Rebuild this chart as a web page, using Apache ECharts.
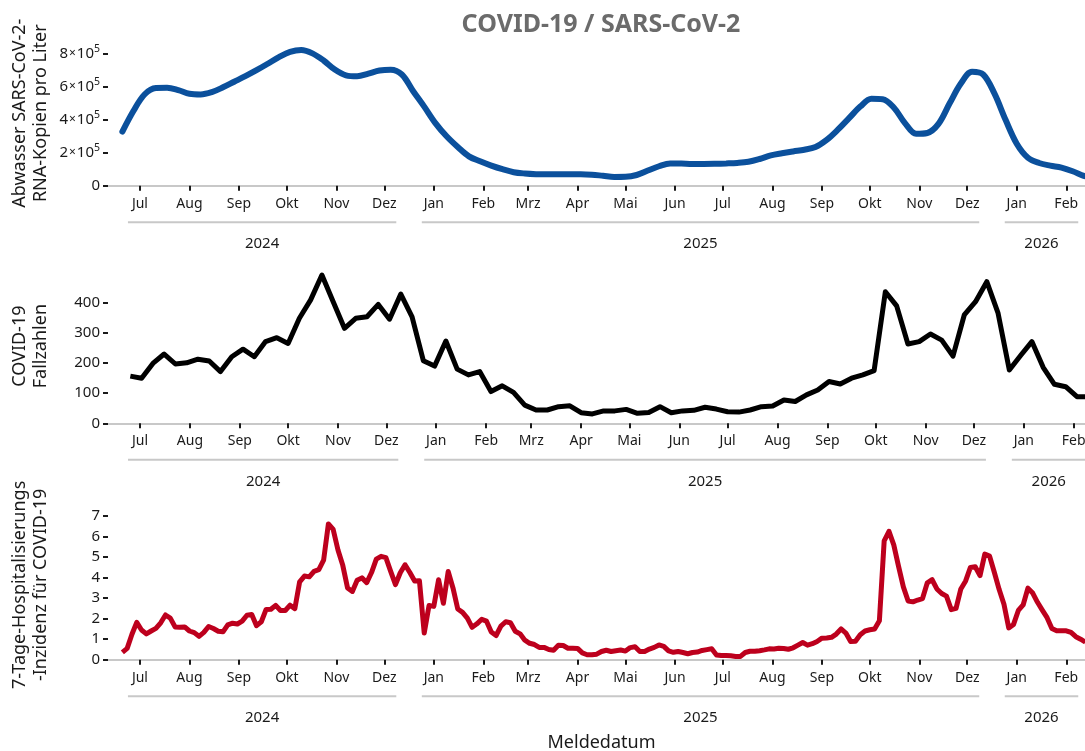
<!DOCTYPE html>
<html>
<head>
<meta charset="utf-8">
<script src="https://cdn.jsdelivr.net/npm/echarts@6/dist/echarts.min.js"></script>
<style>
html,body{margin:0;padding:0;background:#fff;}
#c{width:1085px;height:751px;}
</style>
</head>
<body>
<div id="c"></div>
<script>
// ---------------- data ----------------
const monthNames = ['Jan','Feb','Mrz','Apr','Mai','Jun','Jul','Aug','Sep','Okt','Nov','Dez'];
const DAY = 86400000;

// Abwasser: SARS-CoV-2 RNA copies per liter, weekly from 2024-06-20
const wasteStart = Date.UTC(2024, 5, 20);
const wasteStepDays = 7;
const wasteValues = [3.28e5,4.55e5,5.55e5,5.93e5,5.94e5,5.80e5,5.58e5,5.54e5,5.68e5,5.97e5,
  6.31e5,6.65e5,7.01e5,7.40e5,7.80e5,8.12e5,8.23e5,8.03e5,7.60e5,7.05e5,
  6.70e5,6.64e5,6.80e5,6.99e5,7.04e5,6.75e5,5.75e5,4.80e5,3.80e5,3.00e5,
  2.35e5,1.78e5,1.48e5,1.22e5,1.00e5,0.82e5,0.74e5,0.70e5,0.69e5,0.69e5,
  0.70e5,0.70e5,0.67e5,0.60e5,0.53e5,0.54e5,0.65e5,0.92e5,1.18e5,1.35e5,
  1.34e5,1.32e5,1.32e5,1.33e5,1.35e5,1.38e5,1.45e5,1.62e5,1.84e5,1.97e5,
  2.08e5,2.18e5,2.35e5,2.78e5,3.40e5,4.10e5,4.80e5,5.28e5,5.25e5,4.75e5,
  3.80e5,3.15e5,3.20e5,3.75e5,5.00e5,6.20e5,6.92e5,6.75e5,5.60e5,4.00e5,
  2.55e5,1.70e5,1.38e5,1.22e5,1.10e5,0.88e5,0.60e5,0.40e5];

// COVID-19 Fallzahlen, weekly from 2024-06-25
const casesStart = Date.UTC(2024, 5, 25);
const casesStepDays = 7;
const casesValues = [156,149,198,229,196,200,212,206,171,220,
  245,220,270,283,264,347,408,490,402,314,
  347,352,393,344,427,352,207,189,272,179,
  160,171,105,124,102,60,44,44,55,58,
  35,31,41,41,46,33,36,55,35,41,
  43,53,47,38,37,44,55,57,77,72,
  94,110,138,130,149,160,174,435,388,262,
  270,295,275,222,358,402,468,364,176,224,
  270,185,129,121,88,88];

// 7-Tage-Hospitalisierungsinzidenz, every 3 days from 2024-06-20
const hospStart = Date.UTC(2024, 5, 20);
const hospStepDays = 3;
const hospValues = [0.36,0.55,1.24,1.82,1.45,1.26,1.40,1.53,1.80,2.18,
  2.03,1.60,1.58,1.60,1.40,1.32,1.14,1.33,1.62,1.52,
  1.39,1.36,1.70,1.78,1.74,1.88,2.17,2.20,1.66,1.85,
  2.45,2.46,2.65,2.40,2.40,2.66,2.49,3.80,4.08,4.04,
  4.31,4.39,4.85,6.62,6.35,5.35,4.60,3.50,3.33,3.87,
  3.99,3.76,4.25,4.90,5.04,4.98,4.31,3.66,4.24,4.63,
  4.25,3.84,3.85,1.30,2.64,2.60,3.90,2.75,4.30,3.50,
  2.47,2.31,2.03,1.58,1.75,1.97,1.88,1.35,1.18,1.64,
  1.85,1.80,1.39,1.26,0.95,0.80,0.74,0.60,0.60,0.50,
  0.46,0.70,0.69,0.56,0.56,0.55,0.33,0.24,0.24,0.27,
  0.40,0.46,0.40,0.44,0.47,0.42,0.59,0.63,0.40,0.40,
  0.52,0.60,0.72,0.65,0.43,0.36,0.40,0.35,0.29,0.35,
  0.37,0.45,0.49,0.53,0.23,0.20,0.21,0.19,0.16,0.16,
  0.35,0.41,0.41,0.44,0.48,0.53,0.52,0.56,0.55,0.51,
  0.58,0.71,0.84,0.71,0.78,0.89,1.05,1.06,1.09,1.25,
  1.50,1.30,0.89,0.90,1.22,1.40,1.46,1.50,1.90,5.80,
  6.26,5.60,4.55,3.55,2.86,2.82,2.91,2.98,3.75,3.90,
  3.45,3.23,3.10,2.44,2.50,3.45,3.84,4.50,4.53,4.10,
  5.15,5.05,4.25,3.42,2.70,1.55,1.72,2.40,2.67,3.49,
  3.25,2.80,2.42,2.05,1.52,1.41,1.41,1.41,1.33,1.12,
  1.00,0.86];

const wasteTicks = [0, 2e5, 4e5, 6e5, 8e5];
const casesTicks = [0, 100, 200, 300, 400];
const hospTicks = [0, 1, 2, 3, 4, 5, 6, 7];

const titleText = 'COVID-19 / SARS-CoV-2';
const yNames = ['Abwasser SARS-CoV-2-\nRNA-Kopien pro Liter', 'COVID-19\nFallzahlen', '7-Tage-Hospitalisierungs\n-Inzidenz für COVID-19'];
const xName = 'Meldedatum';

// ---------------- helpers ----------------
const FONT = '"Noto Sans", "DejaVu Sans", sans-serif';
const TXT = '#1a1a1a';
const GREY = '#c8c8c8';

function series(start, step, vals) {
  return vals.map((v, k) => [start + k * step * DAY, v]);
}
function monthTicks(min, max) {
  const out = [];
  const d0 = new Date(min);
  let y = d0.getUTCFullYear(), m = d0.getUTCMonth();
  while (true) {
    const t = Date.UTC(y, m, 1);
    if (t > max) break;
    if (t >= min) out.push(t);
    m++; if (m > 11) { m = 0; y++; }
  }
  return out;
}

const ranges = [
  [Date.UTC(2024, 5, 11), Date.UTC(2026, 1, 19)],
  [Date.UTC(2024, 5, 11, 3), Date.UTC(2026, 1, 14, 5)],
  [Date.UTC(2024, 5, 11), Date.UTC(2026, 1, 19)]
];
const grids = [
  {left: 108, right: -10, top: 40.7, height: 145},
  {left: 108, right: -10, top: 269, height: 154.3},
  {left: 108, right: -10, top: 510, height: 149.7}
];
const yMax = [8.8e5, 510, 7.3];
const yTicks = [wasteTicks, casesTicks, hospTicks];

const chart = echarts.init(document.getElementById('c'), null, {renderer: 'canvas'});

const xAxes = ranges.map((r, i) => {
  const ticks = monthTicks(r[0], r[1]);
  const ax = {
    type: 'value', gridIndex: i, min: r[0], max: r[1],
    axisLine: {show: true, onZero: false, lineStyle: {color: GREY, width: 2}},
    axisTick: {show: true, customValues: ticks, length: 5, lineStyle: {color: TXT, width: 2}},
    axisLabel: {show: true, customValues: ticks, margin: 11, fontSize: 14, color: TXT, fontFamily: FONT,
      formatter: v => monthNames[new Date(v).getUTCMonth()]},
    splitLine: {show: false},
    nameMoveOverlap: false
  };
  if (i === 2) {
    ax.name = xName; ax.nameLocation = 'middle'; ax.nameGap = 74;
    ax.nameTextStyle = {fontSize: 18, color: TXT, fontFamily: FONT};
  }
  return ax;
});

const yAxes = yMax.map((mx, i) => ({
  type: 'value', gridIndex: i, min: 0, max: mx,
  axisLine: {show: false},
  axisTick: {show: true, customValues: yTicks[i], length: 5, lineStyle: {color: TXT, width: 2}},
  axisLabel: {show: true, customValues: yTicks[i], margin: 8, fontSize: 15, color: TXT, fontFamily: FONT,
    formatter: i === 0 ? (v => v === 0 ? '0' : '{n|' + (v / 1e5) + '}{x|×}{n|10}{s|5}') : (v => String(v)),
    rich: i === 0 ? {
      n: {fontSize: 15, color: TXT, fontFamily: FONT},
      x: {fontSize: 12, color: TXT, fontFamily: FONT, padding: [0, 1, 0, 1]},
      s: {fontSize: 10.5, color: TXT, fontFamily: FONT, padding: [0, 0, 9, 0]}
    } : undefined},
  splitLine: {show: false},
  name: yNames[i], nameLocation: 'middle', nameRotate: 90, nameGap: 57,
  nameTextStyle: {fontSize: 18, lineHeight: 21, color: TXT, fontFamily: FONT},
  nameMoveOverlap: false
}));

const option = {
  animation: false,
  backgroundColor: '#fff',
  grid: grids.map(g => Object.assign({containLabel: false, outerBoundsMode: 'none'}, g)),
  xAxis: xAxes,
  yAxis: yAxes,
  series: [
    {type: 'line', xAxisIndex: 0, yAxisIndex: 0, data: series(wasteStart, wasteStepDays, wasteValues),
      smooth: 0.35, showSymbol: false, clip: true, lineStyle: {color: '#0b509c', width: 6, cap: 'round'}},
    {type: 'line', xAxisIndex: 1, yAxisIndex: 1, data: series(casesStart, casesStepDays, casesValues),
      showSymbol: false, clip: true, lineStyle: {color: '#000000', width: 5, join: 'round'}},
    {type: 'line', xAxisIndex: 2, yAxisIndex: 2, data: series(hospStart, hospStepDays, hospValues),
      showSymbol: false, clip: true, lineStyle: {color: '#bd001d', width: 5, join: 'round'}}
  ]
};
chart.setOption(option);

// title and year groups below the month labels
const graphics = [{
  type: 'text', x: 601, y: 25,
  style: {text: titleText, font: 'bold 25px ' + FONT, fill: '#6b6b6b', align: 'center', verticalAlign: 'middle'}
}];
ranges.forEach((r, i) => {
  const ticks = monthTicks(r[0], r[1]);
  const axisY = chart.convertToPixel({yAxisIndex: i}, 0);
  const byYear = {};
  ticks.forEach(t => {
    const y = new Date(t).getUTCFullYear();
    (byYear[y] = byYear[y] || []).push(t);
  });
  Object.keys(byYear).forEach(yr => {
    const arr = byYear[yr];
    const x1 = chart.convertToPixel({xAxisIndex: i}, arr[0]) - 12;
    const x2 = chart.convertToPixel({xAxisIndex: i}, arr[arr.length - 1]) + 12;
    graphics.push({type: 'line', shape: {x1: x1, y1: axisY + 36.5, x2: x2, y2: axisY + 36.5},
      style: {stroke: GREY, lineWidth: 2}});
    graphics.push({type: 'text', x: (x1 + x2) / 2, y: axisY + 58,
      style: {text: yr, font: '15px ' + FONT, fill: TXT, align: 'center', verticalAlign: 'middle'}});
  });
});
chart.setOption({graphic: graphics});
</script>
</body>
</html>
